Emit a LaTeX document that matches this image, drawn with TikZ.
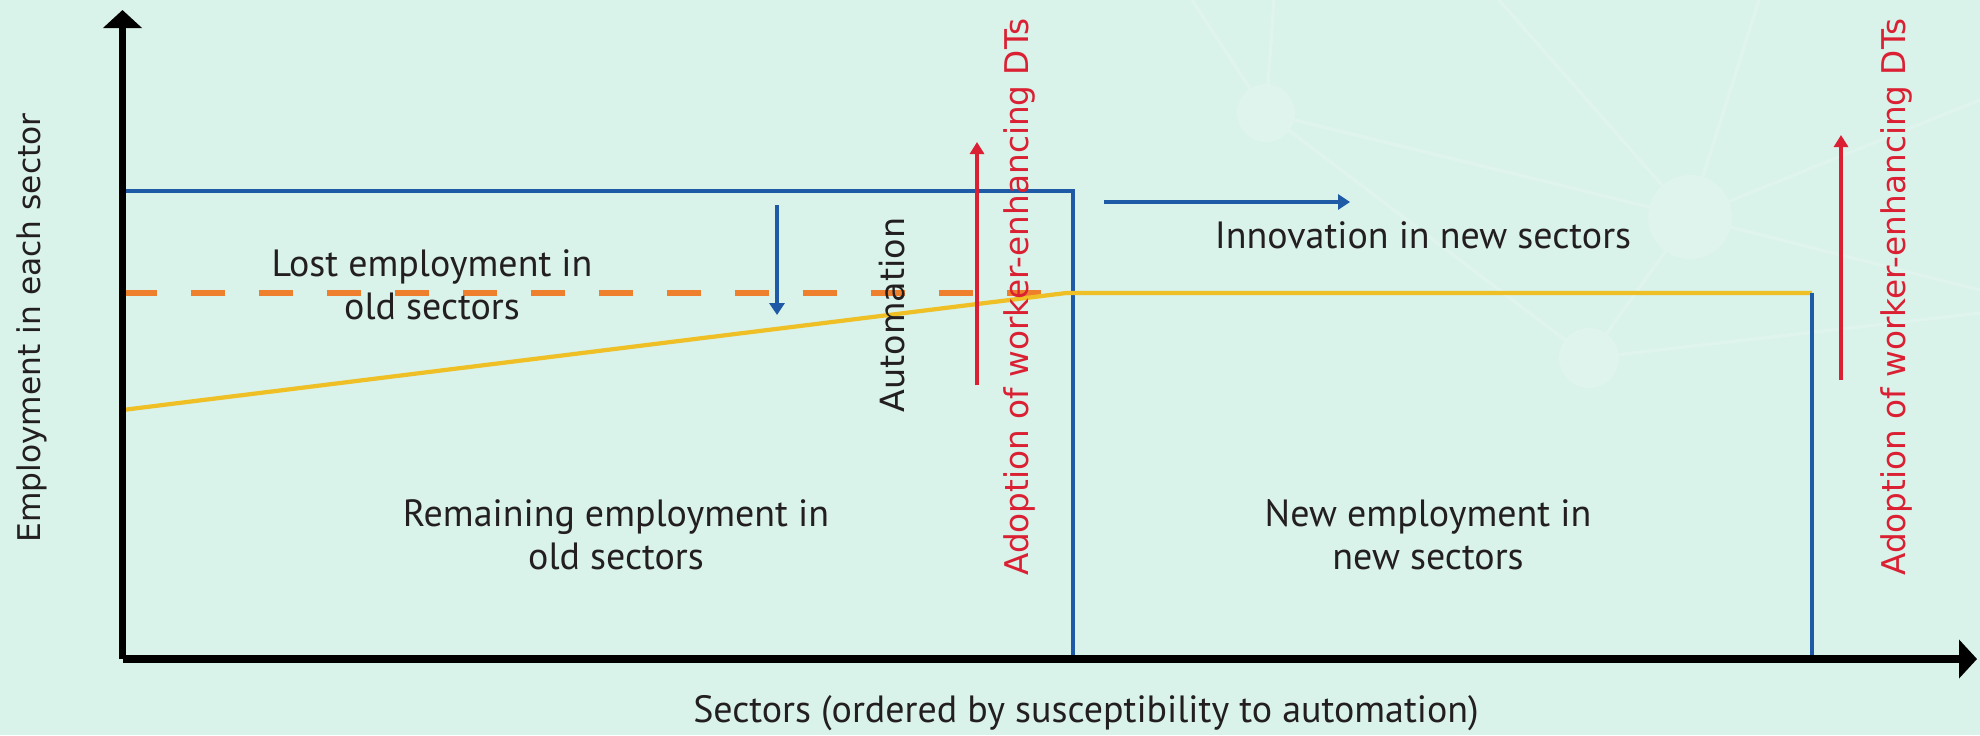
\documentclass[tikz,border=0pt]{standalone}
\usepackage{fontspec}
\setmainfont{PT Sans}
\newfontfamily\widefont{DejaVu Sans}
\usetikzlibrary{arrows.meta}

\definecolor{bgmint}{HTML}{D9F2EA}
\definecolor{netline}{HTML}{DFF4ED}
\definecolor{sectorblue}{HTML}{1F5AA6}
\definecolor{dtred}{HTML}{DA2032}
\definecolor{lossorange}{HTML}{EE7F2D}
\definecolor{empyellow}{HTML}{EFBF26}
\definecolor{inktext}{HTML}{231F20}

\tikzset{
  axis/.style={line width=2pt, -{Triangle[length=1.8mm,width=3.8mm]}},
  sectorline/.style={sectorblue, line width=1.1pt},
  shiftarrow/.style={sectorblue, line width=1.2pt, -{Triangle[length=1.2mm,width=1.5mm]}},
  dtarrow/.style={dtred, line width=1.1pt, -{Triangle[length=1.2mm,width=1.4mm]}},
  textlbl/.style={inktext, align=center, font=\fontsize{10.8}{12.2}\selectfont, inner sep=0pt},
  sidelbl/.style={rotate=90, inner sep=0pt, font=\widefont\fontsize{9.3}{11}\selectfont}
}

\begin{document}
\begin{tikzpicture}
	% Background
	\fill[bgmint] (0,0) rectangle (19.8,7.35);
	\useasboundingbox (0,0) rectangle (19.8,7.35);

	% Network pattern
	\coordinate (na) at (12.66,6.22);
	\coordinate (nb) at (16.90,5.18);
	\coordinate (nc) at (15.89,3.77);
	\draw[netline, line width=1pt] (na) -- (11.92,7.35) (na) -- (12.74,7.35)
		(na) -- (nb) (na) -- (nc) (nb) -- (nc)
		(nb) -- (17.59,7.35) (nb) -- (14.99,7.35)
		(nb) -- (19.8,6.35) (nb) -- (19.8,4.45) (nc) -- (19.8,4.22);
	\fill[netline] (na) circle(0.29);
	\fill[netline] (nb) circle(0.42);
	\fill[netline] (nc) circle(0.30);

	% Sectors
	\coordinate (O) at (1.225,0.76);
	\coordinate (oldtop) at (1.225,5.44);
	\coordinate (oldcorner) at (10.73,5.44);
	\coordinate (oldbase) at (10.73,0.76);
	\coordinate (lossleft) at (1.225,4.42);
	\coordinate (lossright) at (10.73,4.42);
	\coordinate (empleft) at (1.225,3.25);
	\coordinate (empbend) at (10.66,4.42);
	\coordinate (newcorner) at (18.12,4.42);
	\coordinate (newbase) at (18.12,0.76);
	\draw[sectorline] (oldtop) -- (oldcorner) -- (oldbase);
	\draw[lossorange, line width=1.5pt, dash pattern=on 0.34cm off 0.34cm] (lossleft) -- (lossright);
	\draw[empyellow, line width=1.2pt] (empleft) -- (empbend) -- (newcorner);
	\draw[sectorline] (newcorner) -- (newbase);

	% Axes
	\coordinate (ytop) at (1.225,7.25);
	\coordinate (xend) at (19.77,0.76);
	\draw[axis] (O) -- (ytop);
	\draw[axis] (O) -- (xend);

	% Shifts
	\coordinate (autotop) at (7.77,5.30);
	\coordinate (autobot) at (7.77,4.20);
	\coordinate (innovleft) at (11.04,5.33);
	\coordinate (innovright) at (13.50,5.33);
	\coordinate (dtonebot) at (9.77,3.50);
	\coordinate (dtonetop) at (9.77,5.93);
	\coordinate (dttwobot) at (18.41,3.55);
	\coordinate (dttwotop) at (18.41,6.00);
	\draw[shiftarrow] (autotop) -- (autobot);
	\draw[shiftarrow] (innovleft) -- (innovright);
	\draw[dtarrow] (dtonebot) -- (dtonetop);
	\draw[dtarrow] (dttwobot) -- (dttwotop);

	% Labels
	\node[textlbl] (lost) at (4.32,4.50) {Lost employment in\\old sectors};
	\node[textlbl] (remain) at (6.16,2.00) {Remaining employment in\\old sectors};
	\node[textlbl] (newemp) at (14.28,2.00) {New employment in\\new sectors};
	\node[textlbl] (innov) at (14.23,5.00) {Innovation in new sectors};
	\node[sidelbl, inktext, font=\widefont\fontsize{9.5}{11}\selectfont] (auto) at (8.92,4.20) {Automation};
	\node[sidelbl, dtred] (adoptold) at (10.19,4.38) {Adoption of worker-enhancing DTs};
	\node[sidelbl, dtred] (adoptnew) at (18.96,4.38) {Adoption of worker-enhancing DTs};
	\node[sidelbl, inktext, font=\widefont\fontsize{8.9}{11}\selectfont] (ylab) at (0.32,4.07) {Employment in each sector};
	\node[textlbl] (xlab) at (10.86,0.215) {Sectors (ordered by susceptibility to automation)};
\end{tikzpicture}
\end{document}
